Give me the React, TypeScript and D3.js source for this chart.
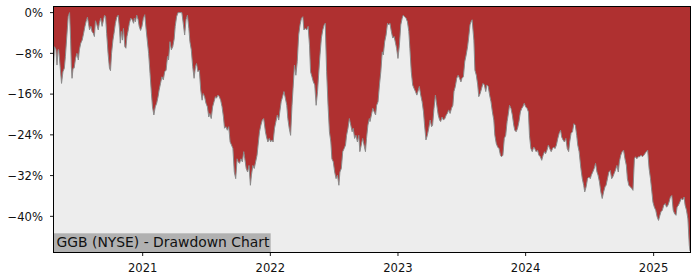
import React from "react";
import * as d3 from "d3";

const CHART_LABEL = "GGB (NYSE) - Drawdown Chart";
const Y_TICKS = [0, -8, -16, -24, -32, -40];
const X_TICK_YEARS = [2021, 2022, 2023, 2024, 2025];
const Y_DOMAIN: [number, number] = [-47.1, 1.2];

const DD_2020: [string, number][] = [
  ["2020-04-21", -10.6], ["2020-04-24", -6.7], ["2020-04-28", -7.3], ["2020-05-01", -10.3],
  ["2020-05-04", -7.3], ["2020-05-06", -7.3], ["2020-05-10", -10.6], ["2020-05-14", -13.9],
  ["2020-05-18", -11.6], ["2020-05-22", -10.9], ["2020-05-25", -8.6], ["2020-05-29", -4.7],
  ["2020-06-02", -0.8], ["2020-06-06", 0], ["2020-06-09", -5.4], ["2020-06-11", -10.6],
  ["2020-06-13", -12.9], ["2020-06-16", -10.9], ["2020-06-19", -10.9], ["2020-06-23", -9.0],
  ["2020-06-27", -8.0], ["2020-07-01", -9.3], ["2020-07-04", -7.3], ["2020-07-08", -6.0],
  ["2020-07-12", -5.4], ["2020-07-16", -4.1], ["2020-07-20", -2.7], ["2020-07-23", -1.8],
  ["2020-07-27", -0.9], ["2020-07-30", -2.1], ["2020-08-02", -3.4], ["2020-08-06", -2.7],
  ["2020-08-09", -3.7], ["2020-08-13", -4.1], ["2020-08-16", -4.7], ["2020-08-19", -1.6],
  ["2020-08-23", -2.4], ["2020-08-27", -3.4], ["2020-08-30", -2.1], ["2020-09-03", -1.1],
  ["2020-09-07", -2.7], ["2020-09-11", -1.4], ["2020-09-14", -0.5], ["2020-09-17", -0.8],
  ["2020-09-20", -4.1], ["2020-09-24", -8.0], ["2020-09-28", -10.9], ["2020-10-01", -11.4],
  ["2020-10-04", -8.0], ["2020-10-08", -5.4], ["2020-10-11", -4.1], ["2020-10-15", -2.1],
  ["2020-10-19", -0.9], ["2020-10-23", -0.5], ["2020-10-27", -3.4], ["2020-10-29", -6.0],
  ["2020-11-01", -3.7], ["2020-11-04", -5.4], ["2020-11-07", -3.1], ["2020-11-11", -6.7],
  ["2020-11-14", -7.0], ["2020-11-17", -4.7], ["2020-11-20", -3.7], ["2020-11-24", -2.1],
  ["2020-11-28", -1.1], ["2020-12-02", -1.4], ["2020-12-06", -2.1], ["2020-12-08", -1.1],
  ["2020-12-11", -1.8], ["2020-12-15", -0.5], ["2020-12-19", -1.4], ["2020-12-22", -2.7],
  ["2020-12-26", -3.5], ["2020-12-30", -2.7],
];

const DD_2021: [string, number][] = [
  ["2021-01-03", -1.1], ["2021-01-07", -0.4], ["2021-01-11", -3.4], ["2021-01-14", -5.4],
  ["2021-01-18", -8.0], ["2021-01-22", -11.9], ["2021-01-26", -15.9], ["2021-01-29", -18.5],
  ["2021-02-02", -20.1], ["2021-02-06", -18.5], ["2021-02-10", -17.8], ["2021-02-14", -16.5],
  ["2021-02-17", -15.2], ["2021-02-21", -13.9], ["2021-02-25", -12.6], ["2021-03-01", -13.2],
  ["2021-03-05", -11.6], ["2021-03-09", -11.3], ["2021-03-13", -8.6], ["2021-03-16", -9.3],
  ["2021-03-20", -5.7], ["2021-03-24", -7.3], ["2021-03-28", -6.7], ["2021-04-01", -5.2],
  ["2021-04-04", -2.7], ["2021-04-08", -0.8], ["2021-04-12", 0], ["2021-04-17", 0],
  ["2021-04-23", 0], ["2021-04-27", -2.1], ["2021-05-01", -4.4], ["2021-05-05", -1.4],
  ["2021-05-09", -0.5], ["2021-05-13", -3.1], ["2021-05-16", -5.7], ["2021-05-20", -7.3],
  ["2021-05-24", -10.6], ["2021-05-28", -12.9], ["2021-06-01", -10.6], ["2021-06-04", -10.0],
  ["2021-06-08", -11.6], ["2021-06-12", -11.3], ["2021-06-16", -15.2], ["2021-06-20", -17.2],
  ["2021-06-23", -15.9], ["2021-06-27", -16.5], ["2021-07-01", -17.8], ["2021-07-05", -18.5],
  ["2021-07-09", -20.5], ["2021-07-12", -19.8], ["2021-07-16", -20.8], ["2021-07-20", -18.5],
  ["2021-07-24", -17.5], ["2021-07-28", -16.5], ["2021-07-31", -16.8], ["2021-08-04", -16.2],
  ["2021-08-08", -16.5], ["2021-08-12", -17.2], ["2021-08-16", -18.5], ["2021-08-20", -20.5],
  ["2021-08-23", -22.7], ["2021-08-27", -22.4], ["2021-08-31", -23.1], ["2021-09-04", -22.4],
  ["2021-09-08", -25.4], ["2021-09-12", -26.0], ["2021-09-16", -26.7], ["2021-09-20", -31.3],
  ["2021-09-24", -32.6], ["2021-09-28", -28.7], ["2021-10-01", -29.3], ["2021-10-05", -29.6],
  ["2021-10-09", -28.7], ["2021-10-13", -29.3], ["2021-10-17", -27.3], ["2021-10-20", -28.7],
  ["2021-10-24", -30.6], ["2021-10-28", -31.3], ["2021-11-01", -30.0], ["2021-11-05", -33.9],
  ["2021-11-08", -31.9], ["2021-11-12", -30.0], ["2021-11-16", -30.6], ["2021-11-20", -29.3],
  ["2021-11-24", -28.0], ["2021-11-27", -26.0], ["2021-12-01", -23.4], ["2021-12-05", -22.1],
  ["2021-12-09", -21.1], ["2021-12-13", -20.8], ["2021-12-18", -23.4], ["2021-12-21", -24.4],
  ["2021-12-25", -25.4], ["2021-12-29", -24.7],
];

const DD_2022: [string, number][] = [
  ["2022-01-02", -25.4], ["2022-01-05", -25.0], ["2022-01-09", -25.4], ["2022-01-13", -22.7],
  ["2022-01-17", -21.4], ["2022-01-21", -20.1], ["2022-01-25", -21.1], ["2022-01-28", -19.5],
  ["2022-02-01", -17.5], ["2022-02-05", -16.5], ["2022-02-09", -15.5], ["2022-02-13", -16.8],
  ["2022-02-17", -18.2], ["2022-02-20", -20.8], ["2022-02-24", -22.7], ["2022-02-28", -24.1],
  ["2022-03-04", -18.2], ["2022-03-07", -14.9], ["2022-03-11", -10.3], ["2022-03-15", -12.3],
  ["2022-03-19", -9.6], ["2022-03-23", -4.4], ["2022-03-27", -2.4], ["2022-03-31", -1.1],
  ["2022-04-04", -0.8], ["2022-04-07", -3.4], ["2022-04-11", -3.1], ["2022-04-15", -3.4],
  ["2022-04-19", -2.7], ["2022-04-23", -6.4], ["2022-04-26", -11.6], ["2022-04-30", -12.6],
  ["2022-05-04", -13.6], ["2022-05-08", -14.2], ["2022-05-12", -18.2], ["2022-05-16", -15.5],
  ["2022-05-19", -12.3], ["2022-05-23", -8.3], ["2022-05-27", -5.0], ["2022-05-31", -3.4],
  ["2022-06-04", -2.4], ["2022-06-07", -2.1], ["2022-06-11", -11.6], ["2022-06-15", -18.2],
  ["2022-06-19", -23.4], ["2022-06-23", -25.4], ["2022-06-26", -28.7], ["2022-06-30", -29.3],
  ["2022-07-04", -31.3], ["2022-07-08", -32.6], ["2022-07-12", -31.9], ["2022-07-16", -33.9],
  ["2022-07-19", -31.3], ["2022-07-23", -30.6], ["2022-07-27", -27.3], ["2022-07-31", -26.7],
  ["2022-08-04", -26.0], ["2022-08-07", -24.1], ["2022-08-11", -22.7], ["2022-08-15", -20.8],
  ["2022-08-19", -22.1], ["2022-08-23", -23.4], ["2022-08-26", -22.7], ["2022-08-30", -24.7],
  ["2022-09-03", -24.1], ["2022-09-07", -25.4], ["2022-09-11", -24.1], ["2022-09-14", -27.3],
  ["2022-09-18", -26.0], ["2022-09-22", -24.7], ["2022-09-26", -26.0], ["2022-09-30", -27.3],
  ["2022-10-03", -24.7], ["2022-10-07", -22.1], ["2022-10-11", -20.8], ["2022-10-13", -21.4],
  ["2022-10-17", -20.1], ["2022-10-21", -18.8], ["2022-10-25", -19.5], ["2022-10-29", -20.1],
  ["2022-11-01", -18.2], ["2022-11-05", -17.5], ["2022-11-09", -14.2], ["2022-11-13", -11.6],
  ["2022-11-17", -7.7], ["2022-11-20", -8.3], ["2022-11-24", -5.7], ["2022-11-28", -4.4],
  ["2022-12-02", -2.1], ["2022-12-06", -2.4], ["2022-12-09", -2.1], ["2022-12-13", -3.7],
  ["2022-12-17", -5.0], ["2022-12-21", -4.7], ["2022-12-25", -6.0], ["2022-12-28", -7.0],
];

const DD_2023: [string, number][] = [
  ["2023-01-01", -9.0], ["2023-01-05", -6.4], ["2023-01-09", -2.4], ["2023-01-13", -1.1],
  ["2023-01-16", -0.5], ["2023-01-20", -0.8], ["2023-01-24", -1.1], ["2023-01-28", -1.8],
  ["2023-02-01", -3.7], ["2023-02-04", -7.0], ["2023-02-08", -11.6], ["2023-02-12", -14.2],
  ["2023-02-16", -14.9], ["2023-02-20", -15.5], ["2023-02-24", -16.2], ["2023-02-27", -15.5],
  ["2023-03-03", -14.5], ["2023-03-07", -16.2], ["2023-03-11", -17.5], ["2023-03-15", -19.5],
  ["2023-03-18", -22.1], ["2023-03-22", -25.0], ["2023-03-26", -24.1], ["2023-03-30", -22.7],
  ["2023-04-03", -21.1], ["2023-04-07", -22.4], ["2023-04-10", -22.1], ["2023-04-14", -18.8],
  ["2023-04-18", -16.2], ["2023-04-22", -18.2], ["2023-04-26", -20.1], ["2023-04-30", -21.1],
  ["2023-05-03", -21.4], ["2023-05-07", -20.5], ["2023-05-11", -21.1], ["2023-05-15", -20.8],
  ["2023-05-19", -20.1], ["2023-05-22", -19.8], ["2023-05-26", -19.1], ["2023-05-30", -19.8],
  ["2023-06-03", -18.8], ["2023-06-07", -18.2], ["2023-06-10", -15.5], ["2023-06-14", -14.5],
  ["2023-06-18", -12.9], ["2023-06-22", -12.3], ["2023-06-26", -12.9], ["2023-06-30", -13.6],
  ["2023-07-03", -12.9], ["2023-07-07", -12.6], ["2023-07-11", -9.6], ["2023-07-15", -8.3],
  ["2023-07-19", -6.7], ["2023-07-22", -5.0], ["2023-07-26", -2.4], ["2023-07-30", -1.6],
  ["2023-08-01", -1.4], ["2023-08-06", -5.4], ["2023-08-09", -11.3], ["2023-08-13", -12.3],
  ["2023-08-17", -14.2], ["2023-08-20", -16.5], ["2023-08-24", -15.9], ["2023-08-28", -14.9],
  ["2023-09-01", -13.9], ["2023-09-05", -14.2], ["2023-09-09", -15.5], ["2023-09-12", -14.2],
  ["2023-09-16", -14.5], ["2023-09-20", -16.2], ["2023-09-24", -17.5], ["2023-09-28", -19.5],
  ["2023-10-02", -21.1], ["2023-10-05", -24.1], ["2023-10-09", -25.7], ["2023-10-13", -26.4],
  ["2023-10-17", -26.7], ["2023-10-21", -28.0], ["2023-10-24", -28.3], ["2023-10-28", -28.0],
  ["2023-11-01", -24.7], ["2023-11-05", -24.1], ["2023-11-09", -21.4], ["2023-11-12", -20.1],
  ["2023-11-16", -18.2], ["2023-11-20", -18.8], ["2023-11-24", -20.1], ["2023-11-28", -22.1],
  ["2023-12-01", -23.1], ["2023-12-05", -23.4], ["2023-12-09", -22.7], ["2023-12-13", -21.4],
  ["2023-12-17", -19.5], ["2023-12-21", -18.8], ["2023-12-24", -18.5], ["2023-12-28", -17.8],
];

const DD_2024: [string, number][] = [
  ["2024-01-01", -18.5], ["2024-01-05", -18.8], ["2024-01-09", -19.5], ["2024-01-12", -24.1],
  ["2024-01-16", -26.7], ["2024-01-20", -27.3], ["2024-01-24", -26.4], ["2024-01-27", -26.7],
  ["2024-01-31", -27.3], ["2024-02-04", -27.0], ["2024-02-08", -28.0], ["2024-02-12", -28.3],
  ["2024-02-16", -29.0], ["2024-02-20", -28.0], ["2024-02-24", -27.3], ["2024-02-27", -27.7],
  ["2024-03-02", -27.0], ["2024-03-06", -26.0], ["2024-03-10", -26.7], ["2024-03-14", -27.3],
  ["2024-03-18", -26.7], ["2024-03-21", -26.4], ["2024-03-25", -26.7], ["2024-03-29", -26.0],
  ["2024-04-02", -24.7], ["2024-04-06", -23.7], ["2024-04-10", -23.1], ["2024-04-13", -24.4],
  ["2024-04-17", -25.0], ["2024-04-21", -25.4], ["2024-04-25", -24.7], ["2024-04-29", -26.7],
  ["2024-05-03", -27.3], ["2024-05-06", -25.4], ["2024-05-10", -23.7], ["2024-05-14", -23.4],
  ["2024-05-18", -21.8], ["2024-05-22", -22.1], ["2024-05-26", -24.1], ["2024-05-29", -26.0],
  ["2024-06-02", -27.3], ["2024-06-07", -30.6], ["2024-06-11", -32.6], ["2024-06-15", -33.9],
  ["2024-06-18", -35.2], ["2024-06-22", -34.2], ["2024-06-26", -32.6], ["2024-06-30", -32.3],
  ["2024-07-04", -32.6], ["2024-07-07", -31.9], ["2024-07-11", -31.3], ["2024-07-15", -30.6],
  ["2024-07-19", -29.6], ["2024-07-23", -31.3], ["2024-07-26", -31.9], ["2024-07-30", -33.2],
  ["2024-08-03", -35.2], ["2024-08-07", -36.5], ["2024-08-11", -35.2], ["2024-08-15", -34.2],
  ["2024-08-18", -33.9], ["2024-08-22", -32.6], ["2024-08-26", -31.3], ["2024-08-30", -31.0],
  ["2024-09-03", -32.6], ["2024-09-06", -32.3], ["2024-09-10", -31.6], ["2024-09-14", -30.9],
  ["2024-09-18", -30.0], ["2024-09-22", -31.3], ["2024-09-25", -29.3], ["2024-09-29", -28.0],
  ["2024-10-03", -27.3], ["2024-10-07", -27.0], ["2024-10-11", -28.7], ["2024-10-15", -30.0],
  ["2024-10-18", -32.6], ["2024-10-22", -33.9], ["2024-10-26", -34.2], ["2024-10-30", -34.5],
  ["2024-11-03", -34.9], ["2024-11-07", -28.7], ["2024-11-10", -28.3], ["2024-11-14", -28.7],
  ["2024-11-18", -28.3], ["2024-11-22", -28.3], ["2024-11-26", -28.0], ["2024-11-30", -28.3],
  ["2024-12-04", -28.0], ["2024-12-07", -27.7], ["2024-12-11", -27.3], ["2024-12-15", -27.0],
  ["2024-12-19", -30.6], ["2024-12-23", -32.6], ["2024-12-27", -35.2], ["2024-12-30", -37.2],
];

const DD_2025: [string, number][] = [
  ["2025-01-03", -38.2], ["2025-01-07", -38.8], ["2025-01-11", -40.1], ["2025-01-15", -40.8],
  ["2025-01-19", -39.8], ["2025-01-22", -39.1], ["2025-01-26", -38.8], ["2025-01-30", -37.8],
  ["2025-02-03", -37.5], ["2025-02-07", -38.2], ["2025-02-11", -37.8], ["2025-02-14", -37.2],
  ["2025-02-18", -36.2], ["2025-02-22", -35.9], ["2025-02-26", -38.8], ["2025-03-02", -39.5],
  ["2025-03-06", -39.8], ["2025-03-09", -38.2], ["2025-03-13", -37.8], ["2025-03-17", -37.2],
  ["2025-03-21", -36.5], ["2025-03-25", -36.8], ["2025-03-29", -36.2], ["2025-04-01", -37.8],
  ["2025-04-05", -38.8], ["2025-04-09", -40.5], ["2025-04-13", -45.7], ["2025-04-15", -46.8],
];

type Pt = { date: Date; v: number };

export default function App() {
  const W = 700;
  const H = 280;
  const left = 53.5;
  const right = 690;
  const top = 6.5;
  const bottom = 252.5;

  const parse = d3.timeParse("%Y-%m-%d");
  const data: Pt[] = [...DD_2020, ...DD_2021, ...DD_2022, ...DD_2023, ...DD_2024, ...DD_2025].map(
    ([d, v]) => ({ date: parse(d) as Date, v })
  );

  const x = d3
    .scaleTime()
    .domain(d3.extent(data, (d) => d.date) as [Date, Date])
    .range([left, right]);
  const y = d3.scaleLinear().domain(Y_DOMAIN).range([bottom, top]);

  const area = d3
    .area<Pt>()
    .x((d) => x(d.date))
    .y0(top)
    .y1((d) => y(d.v));
  const line = d3
    .line<Pt>()
    .x((d) => x(d.date))
    .y((d) => y(d.v));

  const font = "DejaVu Sans, sans-serif";
  const labelBoxRight = 270.7;

  return (
    <svg
      width={W}
      height={H}
      style={{ position: "absolute", left: 0, top: 0, background: "#fff" }}
    >
      <rect x={left} y={top} width={right - left} height={bottom - top} fill="#ededed" />
      <path d={area(data) || ""} fill="#af3030" />
      <path d={line(data) || ""} fill="none" stroke="#8a8a8a" strokeWidth={1} />

      <rect
        x={left}
        y={233.3}
        width={labelBoxRight - left}
        height={bottom - 233.3}
        fill="#b1b1b1"
      />
      <text x={left + 3} y={247.4} fontFamily={font} fontSize={13.9} fill="#111">
        {CHART_LABEL}
      </text>

      <rect
        x={left}
        y={top}
        width={right - left}
        height={bottom - top}
        fill="none"
        stroke="#000"
        strokeWidth={1}
        shapeRendering="crispEdges"
      />

      {Y_TICKS.map((t) => (
        <g key={t}>
          <line
            x1={left - 3.5}
            x2={left}
            y1={y(t)}
            y2={y(t)}
            stroke="#000"
            strokeWidth={0.9}
          />
          <text
            x={left - 10.5}
            y={y(t)}
            dy="0.36em"
            textAnchor="end"
            fontFamily={font}
            fontSize={11.6}
            fill="#111"
          >
            {(t < 0 ? "\u2212" + Math.abs(t) : String(t)) + "%"}
          </text>
        </g>
      ))}

      {X_TICK_YEARS.map((yr) => {
        const xx = x(new Date(yr, 0, 1));
        return (
          <g key={yr}>
            <line x1={xx} x2={xx} y1={bottom} y2={bottom + 3.5} stroke="#000" strokeWidth={0.9} />
            <text
              x={xx}
              y={271.6}
              textAnchor="middle"
              fontFamily={font}
              fontSize={11.6}
              fill="#111"
            >
              {yr}
            </text>
          </g>
        );
      })}
    </svg>
  );
}
